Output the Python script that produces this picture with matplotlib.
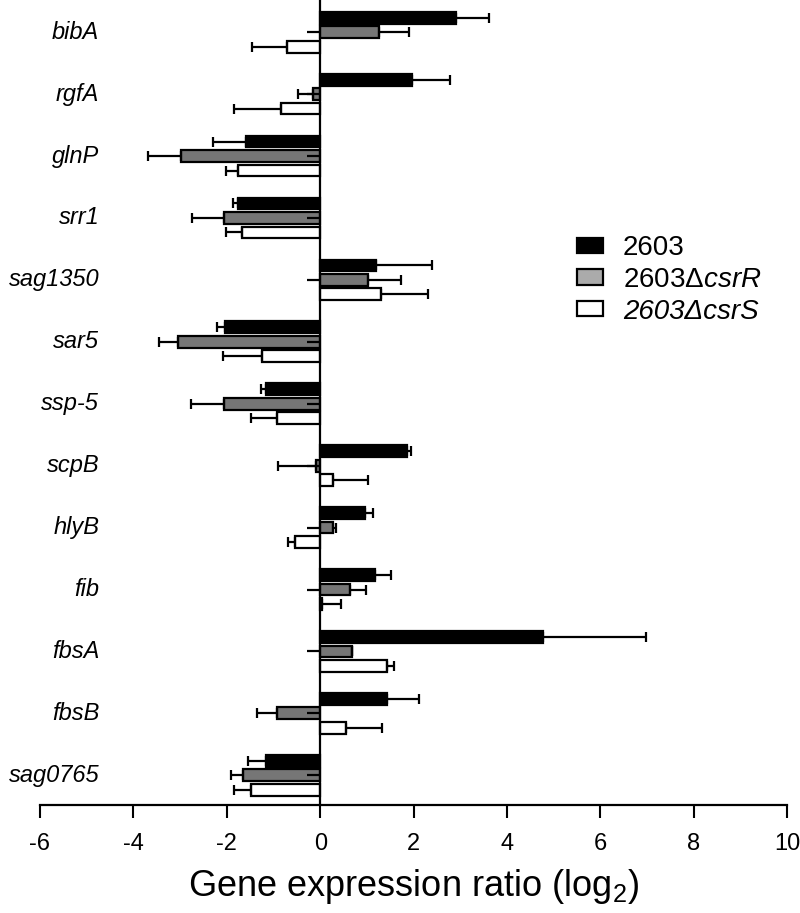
import numpy as np
import matplotlib
matplotlib.use("Agg")
import matplotlib.pyplot as plt
from matplotlib.patches import Patch

plt.rcParams["font.family"] = ["Liberation Sans", "DejaVu Sans"]
plt.rcParams["mathtext.fontset"] = "custom"
plt.rcParams["mathtext.rm"] = "Liberation Sans"
plt.rcParams["mathtext.it"] = "Liberation Sans:italic"
plt.rcParams["axes.unicode_minus"] = False

genes = ["bibA", "rgfA", "glnP", "srr1", "sag1350", "sar5", "ssp-5",
         "scpB", "hlyB", "fib", "fbsA", "fbsB", "sag0765"]

# log2 ratios and one-sided error (distance away from zero)
wt_val = [2.90, 1.97, -1.58, -1.77, 1.20, -2.03, -1.17, 1.86, 0.97, 1.18, 4.78, 1.43, -1.17]
wt_err = [0.71, 0.82, 0.72, 0.10, 1.20, 0.17, 0.09, 0.09, 0.15, 0.34, 2.20, 0.69, 0.37]
csrR_val = [1.26, -0.16, -2.98, -2.06, 1.03, -3.04, -2.06, -0.10, 0.27, 0.63, 0.68, -0.93, -1.66]
csrR_err = [0.65, 0.31, 0.70, 0.68, 0.70, 0.41, 0.70, 0.81, 0.06, 0.35, 0.00, 0.43, 0.25]
csrS_val = [-0.71, -0.84, -1.76, -1.67, 1.31, -1.25, -0.93, 0.27, -0.55, 0.03, 1.43, 0.55, -1.48]
csrS_err = [0.76, 1.00, 0.26, 0.35, 0.99, 0.83, 0.55, 0.76, 0.13, 0.41, 0.16, 0.78, 0.36]

series_names = ["2603", "2603Δ$\\mathit{csrR}$", "2603ΔcsrS"]
bar_colors = ["black", "#767676", "white"]
legend_colors = ["black", "#ababab", "white"]

fig = plt.figure(figsize=(8, 9.13), dpi=100)
ax = fig.add_axes([0.05, 0.1183, 0.934, 0.8817])

y = np.arange(len(genes))
pitch = 0.234
height = 0.19
for i, (vals, errs) in enumerate([(wt_val, wt_err), (csrR_val, csrR_err), (csrS_val, csrS_err)]):
    vals = np.array(vals)
    errs = np.array(errs)
    pos = y + (i - 1) * pitch
    lo = np.where(vals < 0, errs, 0)
    hi = np.where(vals >= 0, errs, 0)
    ax.barh(pos, vals, height=height, color=bar_colors[i], edgecolor="black",
            linewidth=1.6, zorder=2)
    ax.errorbar(vals, pos, xerr=[lo, hi], fmt="none", ecolor="black",
                elinewidth=1.6, capsize=3.5, capthick=1.6, zorder=3)
    if i == 1:
        # short stub left of zero drawn on each csrR bar
        ax.hlines(pos, -0.28, 0, color="black", linewidth=1.6, zorder=3)

for yy, g in zip(y, genes):
    ax.text(-4.73, yy, g, ha="right", va="center", fontsize=17, style="italic")

ax.set_xlim(-6, 10)
ax.set_ylim(len(genes) - 1 + 0.48, -0.52)
ax.set_xticks(np.arange(-6, 11, 2))
ax.tick_params(axis="x", direction="out", length=9, width=1.5, labelsize=17, pad=11.5)
ax.tick_params(axis="y", left=False, labelleft=False)
ax.spines["left"].set_position(("data", 0))
ax.spines["left"].set_linewidth(1.6)
ax.spines["bottom"].set_linewidth(1.6)
ax.spines["top"].set_visible(False)
ax.spines["right"].set_visible(False)
ax.set_xlabel("Gene expression ratio (log$_2$)", fontsize=26, labelpad=8)

handles = [Patch(facecolor=c, edgecolor="black", linewidth=1.6) for c in legend_colors]
leg = fig.legend(handles, series_names, loc="center left",
                 bbox_to_anchor=(577 / 800, 1 - 280 / 913), frameon=False,
                 fontsize=20, handlelength=0.94, handleheight=0.47,
                 handletextpad=0.72, labelspacing=0.2, borderpad=0,
                 borderaxespad=0)
leg.get_texts()[2].set_style("italic")

fig.savefig("out.png", dpi=100)
